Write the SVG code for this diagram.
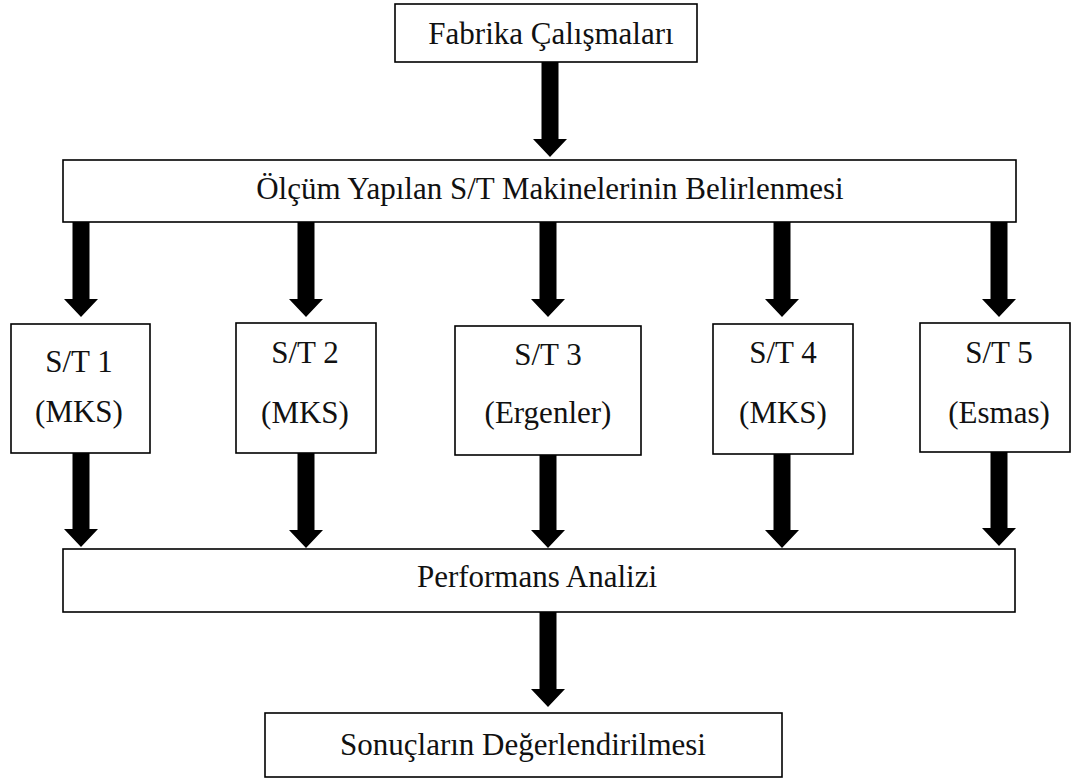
<svg xmlns="http://www.w3.org/2000/svg" width="1075" height="778" viewBox="0 0 1075 778">
  <style>
    .box { fill: #ffffff; stroke: #000000; stroke-width: 1.6; }
    .lbl { font-family: "Liberation Serif", "Times New Roman", serif; font-size: 31px; fill: #111111; text-anchor: middle; }
    .arrow { fill: #000000; }
  </style>
  <defs>
    <!-- block arrow pointing down; origin at top centre, length 95 -->
    <path id="down" d="M -8.5 0 H 8.5 V 77 H 17 L 0 95 L -17 77 H -8.5 Z"/>
  </defs>
  <rect width="1075" height="778" fill="#ffffff"/>

  <!-- connectors -->
  <g id="connectors" class="arrow">
    <use href="#down" x="550" y="62"/>
    <use href="#down" x="81" y="222"/>
    <use href="#down" x="306" y="222"/>
    <use href="#down" x="548" y="222"/>
    <use href="#down" x="782" y="222"/>
    <use href="#down" x="999" y="222"/>
    <use href="#down" x="81" y="452"/>
    <use href="#down" x="306" y="453"/>
    <use href="#down" x="548" y="453"/>
    <use href="#down" x="782" y="453"/>
    <use href="#down" x="999" y="451"/>
    <use href="#down" x="548" y="612"/>
  </g>

  <g id="fabrika">
    <rect class="box" x="395" y="4" width="302" height="58"/>
    <text class="lbl" x="551" y="44">Fabrika Çalışmaları</text>
  </g>

  <g id="olcum">
    <rect class="box" x="63" y="160" width="953" height="62"/>
    <text class="lbl" x="550" y="199">Ölçüm Yapılan S/T Makinelerinin Belirlenmesi</text>
  </g>

  <g id="st1">
    <rect class="box" x="11" y="324" width="139" height="129"/>
    <text class="lbl" x="79" y="372">S/T 1</text>
    <text class="lbl" x="79" y="422">(MKS)</text>
  </g>

  <g id="st2">
    <rect class="box" x="236" y="323" width="140" height="130"/>
    <text class="lbl" x="305" y="363">S/T 2</text>
    <text class="lbl" x="305" y="423">(MKS)</text>
  </g>

  <g id="st3">
    <rect class="box" x="455" y="326" width="186" height="129"/>
    <text class="lbl" x="548" y="365">S/T 3</text>
    <text class="lbl" x="548" y="423">(Ergenler)</text>
  </g>

  <g id="st4">
    <rect class="box" x="713" y="324" width="140" height="130"/>
    <text class="lbl" x="783" y="363">S/T 4</text>
    <text class="lbl" x="783" y="423">(MKS)</text>
  </g>

  <g id="st5">
    <rect class="box" x="920" y="323" width="150" height="129"/>
    <text class="lbl" x="999" y="363">S/T 5</text>
    <text class="lbl" x="999" y="423">(Esmas)</text>
  </g>

  <g id="performans">
    <rect class="box" x="63" y="549" width="952" height="63"/>
    <text class="lbl" x="537" y="587">Performans Analizi</text>
  </g>

  <g id="sonuclar">
    <rect class="box" x="265" y="713" width="517" height="64"/>
    <text class="lbl" x="523" y="755">Sonuçların Değerlendirilmesi</text>
  </g>
</svg>
